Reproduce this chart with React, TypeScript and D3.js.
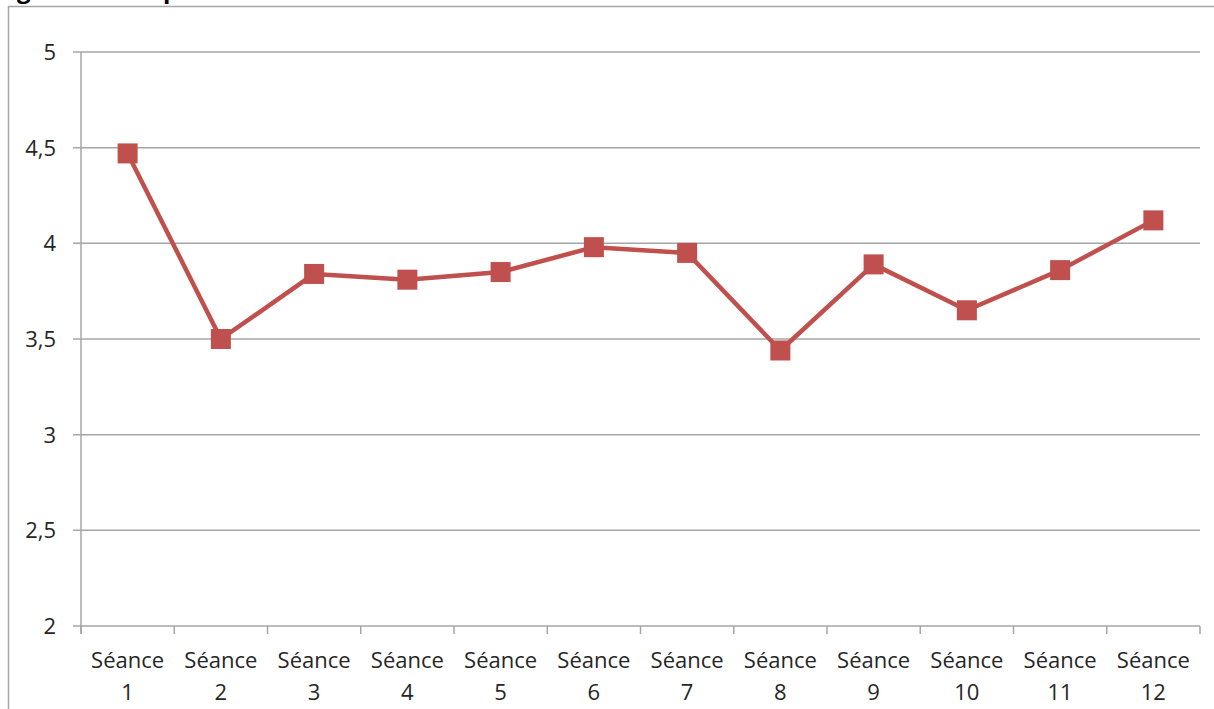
import React from "react";
import * as d3 from "d3";

const categories = ["Séance 1","Séance 2","Séance 3","Séance 4","Séance 5","Séance 6","Séance 7","Séance 8","Séance 9","Séance 10","Séance 11","Séance 12"];
const values = [4.47, 3.5, 3.84, 3.81, 3.85, 3.98, 3.95, 3.44, 3.89, 3.65, 3.86, 4.12];
const yTicks = [2, 2.5, 3, 3.5, 4, 4.5, 5];

const W = 1214, H = 709;
const left = 81, right = 1200, top = 52, bottom = 626;
const FONT = "'Open Sans', sans-serif";
const TEXT = "#262626";
const GRID = "#a6a6a6";
const RED = "#c0504d";

export default function App() {
  const x = d3.scaleBand<string>().domain(categories).range([left, right]).padding(0);
  const y = d3.scaleLinear().domain([2, 5]).range([bottom, top]);
  const line = d3.line<number>()
    .x((_, i) => (x(categories[i]) as number) + x.bandwidth() / 2)
    .y((d) => y(d));
  const tickXs = categories.map((c) => x(c) as number).concat([right]);
  return (
    <svg width={W} height={H} style={{ position: "absolute", left: 0, top: 0, background: "#fff" }}>
      <rect x={0} y={0} width={W} height={H} fill="#fff" />
      {/* cut-off title descenders */}
      <text x={17} y={-2} fontFamily={FONT} fontWeight="bold" fontSize={24} fill="#000">g</text>
      <text x={163} y={-2} fontFamily={FONT} fontWeight="bold" fontSize={24} fill="#000">p</text>
      {/* outer frame */}
      <line x1={8} x2={W} y1={6.5} y2={6.5} stroke={GRID} strokeWidth={1.5} />
      <line x1={8.5} x2={8.5} y1={6} y2={H} stroke={GRID} strokeWidth={1.5} />
      {/* gridlines */}
      {yTicks.map((t) => (
        <g key={t}>
          <line x1={73} x2={right} y1={y(t)} y2={y(t)} stroke={GRID} strokeWidth={1.5} />
          <text x={56} y={y(t)} dy="0.36em" textAnchor="end" fontFamily={FONT} fontSize={22} fill={TEXT}>
            {String(t).replace(".", ",")}
          </text>
        </g>
      ))}
      {/* y axis */}
      <line x1={left} x2={left} y1={top} y2={bottom + 8} stroke={GRID} strokeWidth={1.5} />
      {/* x ticks */}
      {tickXs.map((tx, i) => (
        <line key={i} x1={tx} x2={tx} y1={bottom} y2={bottom + 8} stroke={GRID} strokeWidth={1.5} />
      ))}
      {categories.map((c) => {
        const cx = (x(c) as number) + x.bandwidth() / 2;
        const parts = c.split(" ");
        return (
          <text key={c} x={cx} textAnchor="middle" fontFamily={FONT} fontSize={22} fill={TEXT}>
            <tspan x={cx} y={668}>{parts[0]}</tspan>
            <tspan x={cx} y={700}>{parts[1]}</tspan>
          </text>
        );
      })}
      <path d={line(values) || ""} fill="none" stroke={RED} strokeWidth={4.5} strokeLinejoin="round" />
      {values.map((v, i) => {
        const cx = (x(categories[i]) as number) + x.bandwidth() / 2;
        return <rect key={i} x={cx - 10} y={y(v) - 10} width={20} height={20} fill={RED} />;
      })}
    </svg>
  );
}
